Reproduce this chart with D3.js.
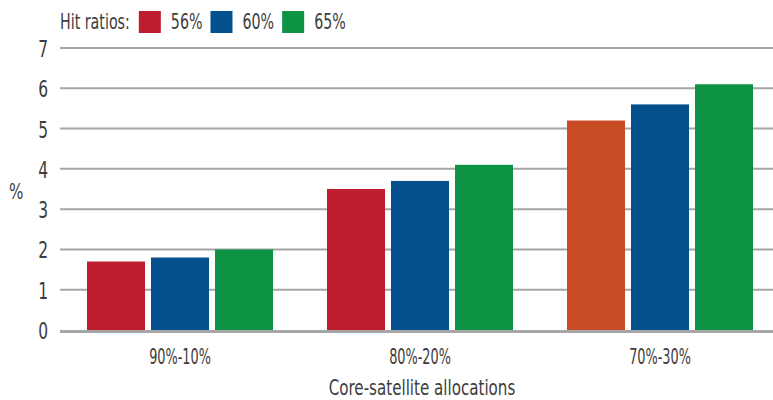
<!DOCTYPE html>
<html><head><meta charset="utf-8">
<script src="https://cdn.jsdelivr.net/npm/d3@7"></script>
<style>
body{margin:0;background:#fff;}
text{font-family:"Liberation Sans Narrow","DejaVu Sans Condensed","Liberation Sans",sans-serif;fill:#3d3d3d;}
</style></head>
<body><svg id="c" width="773" height="400"></svg>
<script>
const categories = ["90%-10%", "80%-20%", "70%-30%"];
const seriesNames = ["56%", "60%", "65%"];
const hit56 = [1.7, 3.5, 5.2];
const hit60 = [1.8, 3.7, 5.6];
const hit65 = [2.0, 4.1, 6.1];
const yTicks = [0, 1, 2, 3, 4, 5, 6, 7];
const legendTitle = "Hit ratios:";
const xTitle = "Core-satellite allocations";
const yTitle = "%";

const seriesColors = ["#be1e2d", "#04508c", "#0e9344"];
const highlightColor = "#c94c27"; // 56% bar in last category is drawn orange in the original

const series = [hit56, hit60, hit65];
const svg = d3.select("#c");
const W = 773, H = 400;
const x0 = d3.scaleBand().domain(categories).range([60, 780]).paddingInner(0.225).paddingOuter(0.1125);
const x1 = d3.scaleBand().domain(seriesNames).range([0, x0.bandwidth()]).paddingInner(0.094);
const y = d3.scaleLinear().domain([0, 7]).range([330, 48]);

// gridlines
svg.append("g").selectAll("line").data(yTicks).join("line")
  .attr("x1", 60).attr("x2", W)
  .attr("y1", d => d === 0 ? y(d) + 1.5 : y(d)).attr("y2", d => d === 0 ? y(d) + 1.5 : y(d))
  .attr("stroke", "#a6a6a6").attr("stroke-width", d => d === 0 ? 3 : 2);

// y tick labels
svg.append("g").selectAll("text").data(yTicks).join("text")
  .attr("transform", d => `translate(48,${y(d) + 9}) scale(0.75,1)`)
  .attr("text-anchor", "end").attr("font-size", 23).text(d => d);

// bars
const g = svg.append("g");
categories.forEach((c, ci) => {
  g.selectAll(null).data(seriesNames.map((s, si) => ({s, si, v: series[si][ci]}))).join("rect")
    .attr("x", d => x0(c) + x1(d.s))
    .attr("width", x1.bandwidth())
    .attr("y", d => y(d.v))
    .attr("height", d => y(0) - y(d.v))
    .attr("fill", d => (ci === 2 && d.si === 0) ? highlightColor : seriesColors[d.si]);
});

// category labels
svg.append("g").selectAll("text").data(categories).join("text")
  .attr("transform", d => `translate(${x0(d) + x0.bandwidth() / 2},364) scale(0.68,1)`)
  .attr("text-anchor", "middle").attr("font-size", 21).text(d => d);

// axis titles
svg.append("text").attr("transform", "translate(422,395) scale(0.8,1)")
  .attr("text-anchor", "middle").attr("font-size", 21).text(xTitle);
svg.append("text").attr("transform", "translate(9,199) scale(0.8,1)")
  .attr("font-size", 21).text(yTitle);

// legend
const lg = svg.append("g");
const sx = 0.72;
let cx = 60;
const t0 = lg.append("text").attr("font-size", 22).text(legendTitle);
t0.attr("transform", `translate(${cx},29) scale(${sx},1)`);
cx += t0.node().getComputedTextLength() * sx + 9;
seriesNames.forEach((s, i) => {
  lg.append("rect").attr("x", cx).attr("y", 11).attr("width", 22).attr("height", 22).attr("fill", seriesColors[i]);
  cx += 22 + 10;
  const t = lg.append("text").attr("font-size", 22).text(s);
  t.attr("transform", `translate(${cx},29) scale(${sx},1)`);
  cx += t.node().getComputedTextLength() * sx + 8;
});
</script></body></html>
